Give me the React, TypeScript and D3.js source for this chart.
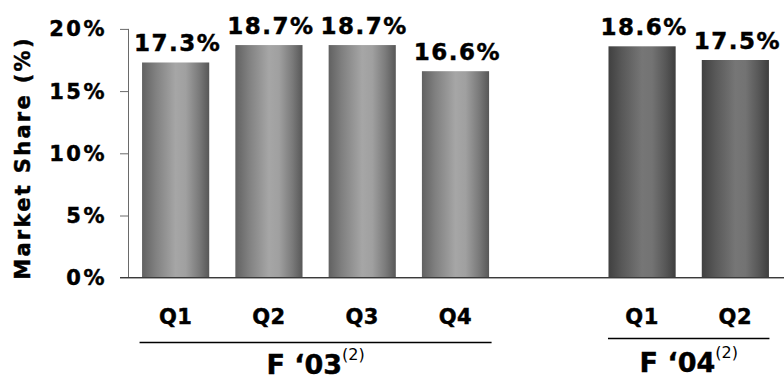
import React from "react";
import * as d3 from "d3";

// Market share by fiscal quarter
const groups = ["F ‘03", "F ‘04"];
const groupNote = "(2)";
const quarters03 = ["Q1", "Q2", "Q3", "Q4"];
const share03 = [17.3, 18.7, 18.7, 16.6];
const quarters04 = ["Q1", "Q2"];
const share04 = [18.6, 17.5];
const yTicks = [0, 5, 10, 15, 20];

const W = 784;
const H = 379;
const FONT = "'DejaVu Sans', Verdana, sans-serif";

type Bar = { key: string; group: number; label: string; value: number };

const bars: Bar[] = [
  ...quarters03.map((q, i) => ({ key: `0-${q}`, group: 0, label: q, value: share03[i] })),
  ...quarters04.map((q, i) => ({ key: `1-${q}`, group: 1, label: q, value: share04[i] })),
];

// an empty slot separates the two fiscal years
const domain = [...bars.filter((b) => b.group === 0).map((b) => b.key), "spacer", ...bars.filter((b) => b.group === 1).map((b) => b.key)];

// heavier bold text
const heavy = { fontFamily: FONT, fontWeight: "bold" as const, fill: "#000", stroke: "#000", strokeWidth: 0.45 };

export default function App() {
  const x = d3.scaleBand<string>().domain(domain).range([129, 782]).paddingInner(0.28).paddingOuter(0.14);
  const y = d3.scaleLinear().domain([0, 20]).range([277.7, 28.9]);
  const bw = x.bandwidth();

  const groupSpan = (g: number) => {
    const keys = bars.filter((b) => b.group === g).map((b) => b.key);
    return [x(keys[0])!, x(keys[keys.length - 1])! + bw];
  };

  const groupLayout = [
    { lineY: 342.5, baseY: 373.5, pad: 2.5 },
    { lineY: 338.5, baseY: 372, pad: 0.5 },
  ];

  return (
    <svg width={W} height={H} style={{ display: "block", position: "absolute", left: 0, top: 0 }}>
      <defs>
        <linearGradient id="g03" x1="0" x2="1" y1="0" y2="0">
          <stop offset="0" stopColor="#616161" />
          <stop offset="0.2" stopColor="#808080" />
          <stop offset="0.5" stopColor="#a6a6a6" />
          <stop offset="0.65" stopColor="#a0a0a0" />
          <stop offset="0.85" stopColor="#7a7a7a" />
          <stop offset="1" stopColor="#575757" />
        </linearGradient>
        <linearGradient id="g04" x1="0" x2="1" y1="0" y2="0">
          <stop offset="0" stopColor="#404040" />
          <stop offset="0.2" stopColor="#585858" />
          <stop offset="0.5" stopColor="#767676" />
          <stop offset="0.65" stopColor="#737373" />
          <stop offset="0.85" stopColor="#575757" />
          <stop offset="1" stopColor="#3e3e3e" />
        </linearGradient>
      </defs>

      {/* y axis */}
      <line x1={128.5} x2={128.5} y1={y(20)} y2={y(0)} stroke="#6a6a6a" strokeWidth={1} />
      {yTicks.map((t) => (
        <g key={t}>
          <line x1={120} x2={128.5} y1={y(t) + 0.5} y2={y(t) + 0.5} stroke="#6a6a6a" strokeWidth={1} />
          <text x={107} y={y(t) + 7.5} textAnchor="end" fontSize={21} letterSpacing={2.5} {...heavy}>
            {t}%
          </text>
        </g>
      ))}

      <text transform={`translate(30,158) rotate(-90)`} textAnchor="middle" fontSize={21} letterSpacing={2.3} {...heavy}>
        Market Share (%)
      </text>

      {/* bars */}
      {bars.map((b) => (
        <rect
          key={b.key}
          x={x(b.key)!}
          y={y(b.value)}
          width={bw}
          height={y(0) - y(b.value)}
          fill={b.group === 0 ? "url(#g03)" : "url(#g04)"}
        />
      ))}

      {/* baseline */}
      <line x1={120} x2={W} y1={277.5} y2={277.5} stroke="#3a3a3a" strokeWidth={1} />
      <line x1={120} x2={W} y1={278.5} y2={278.5} stroke="#a8a8a8" strokeWidth={1} />

      {/* value labels */}
      {bars.map((b) => (
        <text
          key={b.key + "-v"}
          x={x(b.key)! + bw / 2 + 2}
          y={y(b.value) - 11.5}
          textAnchor="middle"
          fontSize={23}
          letterSpacing={1.5}
          {...heavy}
        >
          {b.value.toFixed(1)}%
        </text>
      ))}

      {/* quarter labels */}
      {bars.map((b) => (
        <text key={b.key + "-q"} x={x(b.key)! + bw / 2} y={324} textAnchor="middle" fontSize={21} letterSpacing={0.5} {...heavy}>
          {b.label}
        </text>
      ))}

      {/* fiscal year groups */}
      {groups.map((g, i) => {
        const [x0, x1] = groupSpan(i);
        const L = groupLayout[i];
        return (
          <g key={g}>
            <line x1={x0 - L.pad} x2={x1 + L.pad} y1={L.lineY} y2={L.lineY} stroke="#000" strokeWidth={1.5} />
            <text x={(x0 + x1) / 2} y={L.baseY} textAnchor="middle" fontFamily={FONT} fill="#000">
              <tspan fontWeight="bold" fontSize={27} stroke="#000" strokeWidth={0.45}>
                {g}
              </tspan>
              <tspan fontSize={16} dy={-14}>
                {groupNote}
              </tspan>
            </text>
          </g>
        );
      })}
    </svg>
  );
}
